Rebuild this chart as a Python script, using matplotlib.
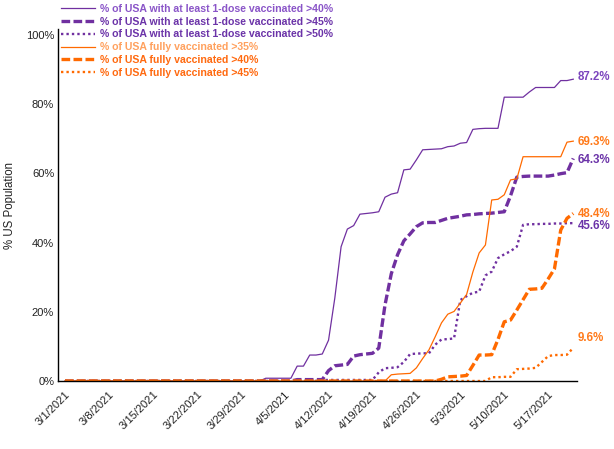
import matplotlib
matplotlib.use("Agg")
import matplotlib.pyplot as plt
import numpy as np
import pandas as pd

dates = pd.date_range("2021-03-01", "2021-05-21", freq="D")

dose1_gt40 = ([0.0] * 32 + [0.8] * 5 + [4.3, 4.3, 7.5, 7.5, 7.8, 11.8, 24.0, 38.8, 43.9, 44.9,
              48.2, 48.4, 48.6, 48.9, 53.1, 54.0, 54.4, 61.0, 61.2, 63.9, 66.8, 66.9, 67.0, 67.1,
              67.7, 67.9, 68.7, 68.9, 72.7, 72.9, 73.0, 73.0, 73.0, 82.0, 82.0, 82.0, 82.0, 83.5,
              84.8, 84.8, 84.8, 84.8, 86.8, 86.8, 87.2])
dose1_gt45 = ([0.0] * 37 + [0.4] * 5 + [3.0, 4.4, 4.6, 4.8, 7.2, 7.6, 7.8, 8.0, 9.5, 22.0, 31.0,
              36.5, 40.5, 42.5, 44.6, 45.7, 45.8, 45.8, 46.4, 47.0, 47.3, 47.6, 48.0, 48.1, 48.3,
              48.4, 48.5, 48.7, 48.9, 53.5, 58.9, 59.1, 59.2, 59.2, 59.2, 59.2, 59.5, 59.9, 60.2,
              64.3])
dose1_gt50 = ([0.0] * 41 + [0.3] * 9 + [2.5, 3.7, 3.8, 4.0, 5.5, 7.8, 7.9, 8.0, 8.0, 10.5, 12.0,
              12.1, 12.3, 23.4, 24.5, 25.5, 25.8, 30.5, 31.6, 35.5, 36.6, 37.5, 38.8, 45.1, 45.3,
              45.3, 45.4, 45.4, 45.5, 45.5, 45.6, 45.6])
full_gt35 = ([0.0] * 52 + [1.8, 2.0, 2.1, 2.2, 3.8, 6.5, 9.0, 12.8, 16.8, 19.3, 20.1, 22.5, 25.0,
             31.5, 37.0, 39.3, 52.3, 52.5, 53.8, 58.1, 58.4, 64.8] + [64.8] * 6 + [69.0, 69.3])
full_gt40 = ([0.0] * 60 + [0.5, 1.2, 1.3, 1.4, 1.6, 4.5, 7.5, 7.5, 7.6, 12.0, 17.1, 17.6, 20.5,
             23.5, 26.5, 26.6, 26.8, 29.5, 32.4, 43.6, 47.0, 48.4])
full_gt45 = ([0.0] * 68 + [1.1, 1.1, 1.2, 1.2, 3.4, 3.5, 3.6, 3.8, 5.5, 7.2, 7.5, 7.5, 7.6, 9.6])

labels = ["% of USA with at least 1-dose vaccinated >40%",
          "% of USA with at least 1-dose vaccinated >45%",
          "% of USA with at least 1-dose vaccinated >50%",
          "% of USA fully vaccinated >35%",
          "% of USA fully vaccinated >40%",
          "% of USA fully vaccinated >45%"]
end_labels = ["87.2%", "64.3%", "45.6%", "69.3%", "48.4%", "9.6%"]
y_ticks = [0, 20, 40, 60, 80, 100]

series = [dose1_gt40, dose1_gt45, dose1_gt50, full_gt35, full_gt40, full_gt45]

PURPLE = "#7030A0"
ORANGE = "#FF6A00"
line_colors = [PURPLE, PURPLE, PURPLE, ORANGE, ORANGE, ORANGE]
styles = [dict(lw=0.9, ls="-"),
          dict(lw=2.4, ls=(0, (2.6, 1.0))),
          dict(lw=1.7, ls=(0, (1.0, 1.3))),
          dict(lw=0.9, ls="-"),
          dict(lw=2.4, ls=(0, (2.6, 1.0))),
          dict(lw=1.7, ls=(0, (1.0, 1.3)))]
text_colors = ["#8A55C8", "#6B33A8", "#6B33A8", "#FFA15E", "#FF6A10", "#FF6A10"]
end_colors = ["#7B45BD", "#6B33A8", "#6B33A8", "#FF7A1A", "#FF7A1A", "#FF7A1A"]
end_offsets = [0.7, -0.4, -0.9, -0.2, -0.1, 2.8]

fonts = ["Liberation Sans", "DejaVu Sans"]
plt.rcParams["font.family"] = fonts

W, H = 614, 449
fig = plt.figure(figsize=(W / 100, H / 100), dpi=100)
ax = fig.add_axes([58.3 / W, 1 - 381 / H, (577 - 58.3) / W, (381 - 29) / H])

x = np.arange(len(dates))
handles = []
for vals, c, st, lab in zip(series, line_colors, styles, labels):
    ln, = ax.plot(x, vals, color=c, lw=st["lw"], ls=st["ls"], solid_joinstyle="round",
                  dash_capstyle="butt", label=lab)
    handles.append(ln)

ax.set_xlim((58.3 - 65) / 6.275, (577 - 65) / 6.275)
ax.set_ylim(0, 101.7)

for sp in ["top", "right"]:
    ax.spines[sp].set_visible(False)
for sp in ["left", "bottom"]:
    ax.spines[sp].set_color("black")
    ax.spines[sp].set_linewidth(1.0)

ax.set_yticks(y_ticks)
ax.set_yticklabels([f"{v}%" for v in y_ticks], fontsize=8, color="#222222")
tick_idx = list(range(0, len(dates), 7))
ax.set_xticks(tick_idx)
ax.set_xticklabels([f"{d.month}/{d.day}/{d.year}" for d in dates[tick_idx]],
                   rotation=45, ha="right", rotation_mode="anchor", fontsize=8, color="#222222")
ax.tick_params(axis="both", length=0)
ax.tick_params(axis="x", pad=6)
ax.tick_params(axis="y", pad=3)
ax.set_ylabel("% US Population", fontsize=8.3, color="#222222", labelpad=7)

for s, lab, c, off in zip(series, end_labels, end_colors, end_offsets):
    ax.text(len(dates) - 1 + 0.75, s[-1] + off, lab, color=c, fontsize=8.3,
            fontweight="bold", va="center", ha="left", clip_on=False)

leg = fig.legend(handles=handles, labels=labels, loc="upper left",
                 bbox_to_anchor=(61 / W, 1 - 4 / H), frameon=False,
                 prop=dict(family=fonts, weight="bold", size=7.6),
                 handlelength=3.2, handletextpad=0.5, labelspacing=0.26,
                 borderpad=0, borderaxespad=0)
for t, c in zip(leg.get_texts(), text_colors):
    t.set_color(c)

fig.savefig("out.png", dpi=100)
